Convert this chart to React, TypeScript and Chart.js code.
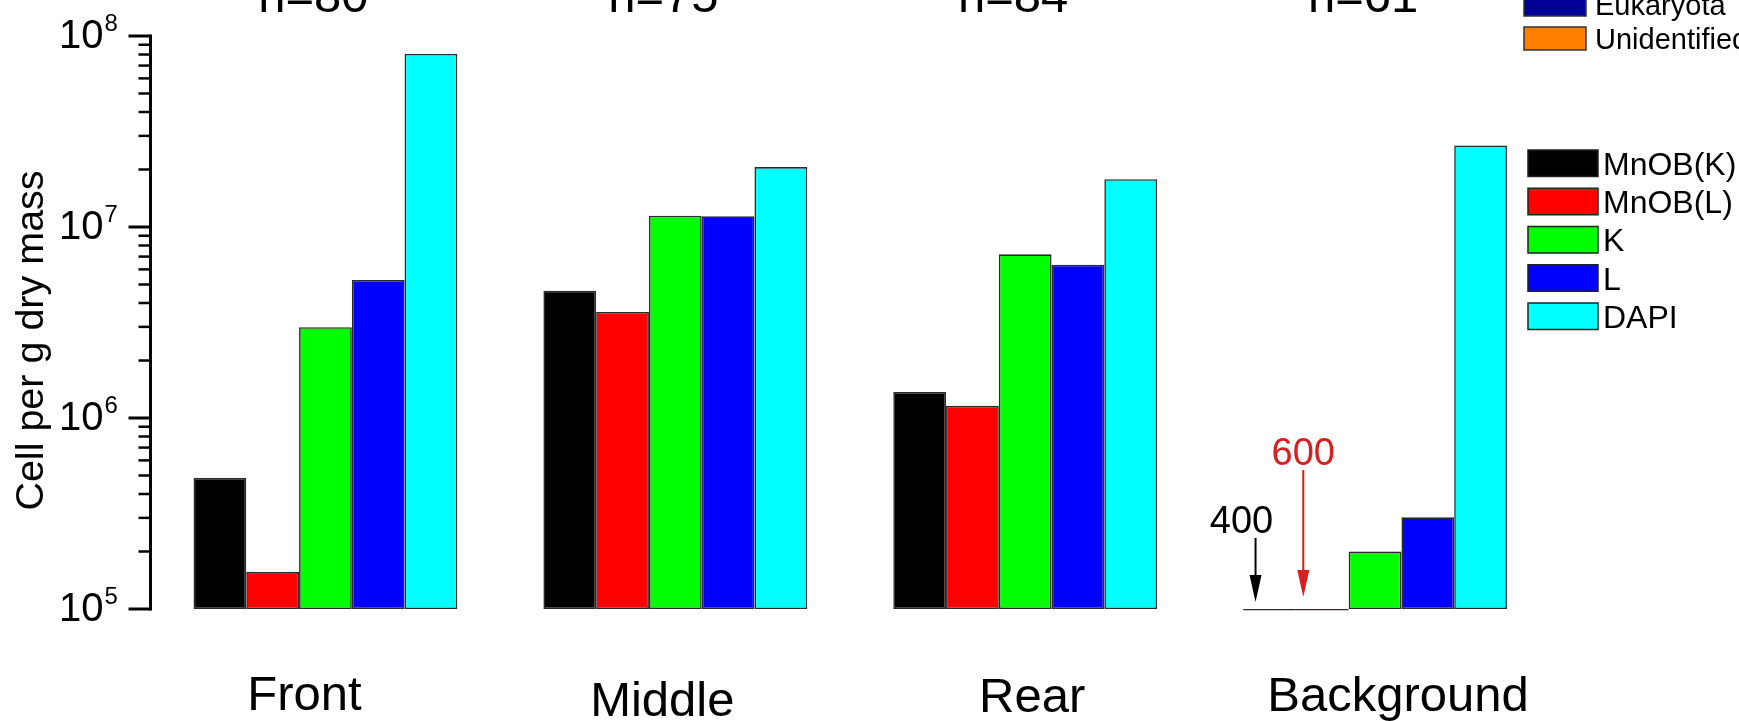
import React, { useEffect, useRef } from 'react';
import { Chart, registerables } from 'chart.js';

Chart.register(...registerables);

// ---- data ----
const categories = ['Front', 'Middle', 'Rear', 'Background'];
const groupCounts = ['n=80', 'n=75', 'n=84', 'n=61'];
const seriesNames = ['MnOB(K)', 'MnOB(L)', 'K', 'L', 'DAPI'];
const mnobK = [4.85e5, 4.64e6, 1.37e6, 400];
const mnobL = [1.56e5, 3.59e6, 1.16e6, 600];
const kCounts = [2.99e6, 1.146e7, 7.19e6, 2.0e5];
const lCounts = [5.28e6, 1.137e7, 6.35e6, 3.02e5];
const dapiCounts = [8.05e7, 2.06e7, 1.78e7, 2.67e7];
const yMin = 1e5;
const yMax = 1e8;
const majorExponents = [5, 6, 7, 8];
const extraLegendNames = ['Eukaryota', 'Unidentified'];

// ---- styles ----
const seriesColors = ['#000000', '#ff0000', '#00ff00', '#0000ff', '#00ffff'];
const extraLegendColors = ['#000099', '#ff8000'];
const catLabelDx = [-21, -13, 7, 23];
const catLabelDy = [101, 107, 103, 102];
const FONT = '"Liberation Sans", Arial, Helvetica, sans-serif';

const decorPlugin = {
  id: 'decor',
  afterDraw(chart: any) {
    const ctx = chart.ctx as CanvasRenderingContext2D;
    const ys = chart.scales.y;
    const xs = chart.scales.x;
    const area = chart.chartArea;
    const ax = area.left;
    ctx.save();
    ctx.fillStyle = '#000';
    ctx.strokeStyle = '#000';

    // y axis line
    const yTop = ys.getPixelForValue(yMax);
    const yBot = ys.getPixelForValue(yMin);
    ctx.lineWidth = 3;
    ctx.beginPath();
    ctx.moveTo(ax, yTop - 1.5);
    ctx.lineTo(ax, yBot + 1.5);
    ctx.stroke();

    // ticks
    const lastE = majorExponents[majorExponents.length - 1];
    for (let e = majorExponents[0]; e <= lastE; e++) {
      const maxM = e === lastE ? 1 : 9;
      for (let m = 1; m <= maxM; m++) {
        const v = m * Math.pow(10, e);
        const py = ys.getPixelForValue(v);
        const major = m === 1;
        ctx.lineWidth = major ? 3 : 2.5;
        ctx.beginPath();
        ctx.moveTo(ax - (major ? 22 : 12), py);
        ctx.lineTo(ax, py);
        ctx.stroke();
      }
    }

    // tick labels 10^n
    majorExponents.forEach((e) => {
      const py = ys.getPixelForValue(Math.pow(10, e));
      ctx.font = `40px ${FONT}`;
      ctx.textAlign = 'right';
      ctx.textBaseline = 'middle';
      ctx.fillText('10', ax - 47, py + 1);
      ctx.font = `24px ${FONT}`;
      ctx.textAlign = 'left';
      ctx.textBaseline = 'alphabetic';
      ctx.fillText(String(e), ax - 46, py - 5);
    });

    // y title
    ctx.save();
    ctx.translate(43, (area.top + area.bottom) / 2 + 18);
    ctx.rotate(-Math.PI / 2);
    ctx.font = `39.5px ${FONT}`;
    ctx.textAlign = 'center';
    ctx.textBaseline = 'alphabetic';
    ctx.fillText('Cell per g dry mass', 0, 0);
    ctx.restore();

    // category labels and group counts
    categories.forEach((c, i) => {
      const cx = xs.getPixelForValue(i);
      ctx.font = `49px ${FONT}`;
      ctx.textAlign = 'center';
      ctx.textBaseline = 'alphabetic';
      ctx.fillText(c, cx + catLabelDx[i], area.bottom + catLabelDy[i]);
      ctx.fillText(groupCounts[i], cx - 12, area.top - 24);
    });

    // main legend
    const lx = 1528;
    const ly = 150;
    const pitch = 38.25;
    chart.data.datasets.forEach((ds: any, i: number) => {
      const top = ly + i * pitch;
      ctx.fillStyle = ds.backgroundColor;
      ctx.fillRect(lx, top, 70, 26.5);
      ctx.lineWidth = 1.5;
      ctx.strokeStyle = '#222';
      ctx.strokeRect(lx, top, 70, 26.5);
      ctx.fillStyle = '#000';
      ctx.font = `32px ${FONT}`;
      ctx.textAlign = 'left';
      ctx.textBaseline = 'alphabetic';
      ctx.fillText(ds.label, 1603, top + 13.25 + 11.5);
    });

    // partial upper legend (cut off at top of figure)
    extraLegendNames.forEach((name, i) => {
      const top = -7 + i * 34;
      ctx.fillStyle = extraLegendColors[i];
      ctx.fillRect(1524, top, 62, 23);
      ctx.lineWidth = 1.5;
      ctx.strokeStyle = '#333';
      ctx.strokeRect(1524, top, 62, 23);
      ctx.fillStyle = '#000';
      ctx.font = `29px ${FONT}`;
      ctx.textAlign = 'left';
      ctx.textBaseline = 'alphabetic';
      ctx.fillText(name, 1595, top + 11.5 + 10.3);
    });

    // annotations for values below the axis minimum (Background group)
    const base = ys.getPixelForValue(yMin);
    const annot = [
      { ds: 0, dx: -14, tipGap: 7, tail: 71, textDx: -14, textGap: 76, color: '#000000' },
      { ds: 1, dx: -19, tipGap: 12, tail: 139, textDx: 0, textGap: 144, color: '#d81e1e' },
    ];
    const bgIndex = categories.length - 1;
    annot.forEach((a) => {
      const el = chart.getDatasetMeta(a.ds).data[bgIndex];
      const val = chart.data.datasets[a.ds].data[bgIndex];
      const x = el.x + a.dx;
      const tip = base - a.tipGap;
      ctx.strokeStyle = a.color;
      ctx.fillStyle = a.color;
      ctx.lineWidth = 2;
      ctx.beginPath();
      ctx.moveTo(x, base - a.tail);
      ctx.lineTo(x, tip - 20);
      ctx.stroke();
      ctx.beginPath();
      ctx.moveTo(x - 6, tip - 27);
      ctx.lineTo(x + 6, tip - 27);
      ctx.lineTo(x, tip);
      ctx.closePath();
      ctx.fill();
      ctx.font = `38px ${FONT}`;
      ctx.textAlign = 'center';
      ctx.textBaseline = 'alphabetic';
      ctx.fillText(String(val), x + a.textDx, base - a.textGap);
    });

    ctx.restore();
  },
};

export default function App() {
  const ref = useRef<HTMLCanvasElement | null>(null);

  useEffect(() => {
    if (!ref.current) return;
    const seriesData = [mnobK, mnobL, kCounts, lCounts, dapiCounts];
    const chart = new Chart(ref.current, {
      type: 'bar',
      data: {
        labels: categories,
        datasets: seriesNames.map((name, i) => ({
          label: name,
          data: seriesData[i],
          backgroundColor: seriesColors[i],
          borderColor: '#2a2a2a',
          borderWidth: 1.6,
          borderSkipped: false,
          barPercentage: 1,
          categoryPercentage: 0.754,
          clip: { left: 2, right: 2, top: 2, bottom: 1.2 },
        })),
      },
      options: {
        animation: false,
        responsive: false,
        maintainAspectRatio: false,
        events: [],
        layout: { padding: { left: 150.5, top: 36, right: 189, bottom: 112 } },
        plugins: {
          legend: { display: false },
          tooltip: { enabled: false },
          title: { display: false },
        },
        scales: {
          x: { type: 'category', display: false, offset: true },
          y: { type: 'logarithmic', display: false, min: yMin, max: yMax },
        },
      },
      plugins: [decorPlugin],
    });
    return () => chart.destroy();
  }, []);

  return (
    <div style={{ position: 'absolute', left: 0, top: 0, width: 1739, height: 721, background: '#fff' }}>
      <canvas ref={ref} width={1739} height={721} style={{ display: 'block' }} />
    </div>
  );
}
